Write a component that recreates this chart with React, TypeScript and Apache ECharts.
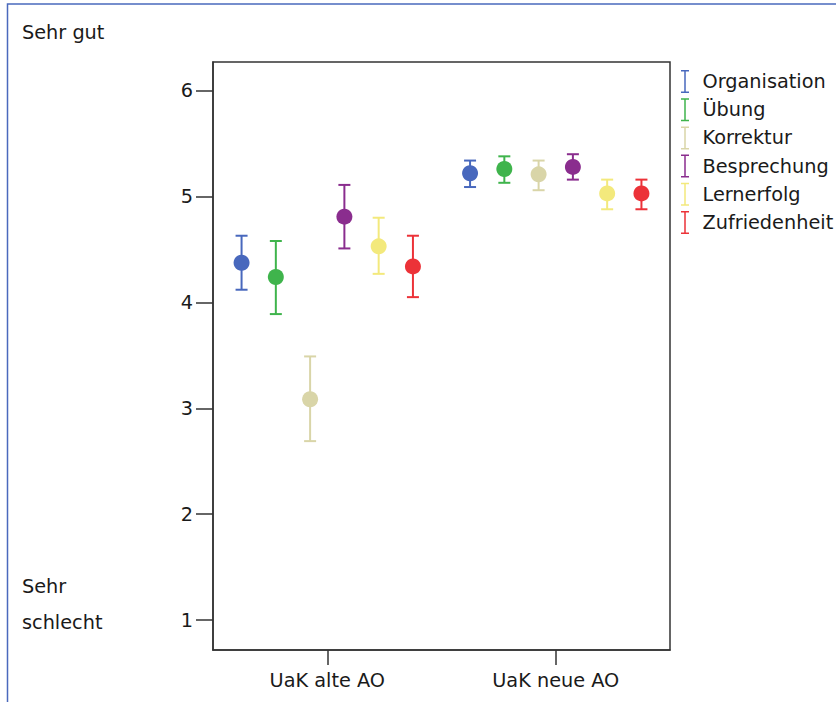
import React, { useEffect, useRef } from "react";
import * as echarts from "echarts";

const categories = ["UaK alte AO", "UaK neue AO"];
const seriesNames = ["Organisation", "Übung", "Korrektur", "Besprechung", "Lernerfolg", "Zufriedenheit"];
const seriesColors = ["#4868bd", "#3fb44c", "#d9d5a8", "#8a2d8e", "#f3e97c", "#ec3238"];
// mean values per series: [UaK alte AO, UaK neue AO]
const meanValues = [
  [4.375, 5.22],
  [4.24, 5.26],
  [3.085, 5.21],
  [4.81, 5.28],
  [4.53, 5.03],
  [4.34, 5.03],
];
const lowerValues = [
  [4.12, 5.09],
  [3.89, 5.13],
  [2.69, 5.06],
  [4.51, 5.16],
  [4.27, 4.88],
  [4.05, 4.88],
];
const upperValues = [
  [4.63, 5.34],
  [4.58, 5.38],
  [3.49, 5.34],
  [5.11, 5.4],
  [4.8, 5.16],
  [4.63, 5.16],
];
const yTickValues = [1, 2, 3, 4, 5, 6];
const topLabel = "Sehr gut";
const bottomLabelLines = ["Sehr", "schlecht"];

const FONT = "DejaVu Sans";
const FS = 19.3;
const IBEAM = "path://M0,0H8V1.5H4.75V21.5H8V23H0V21.5H3.25V1.5H0Z";

export default function App() {
  const ref = useRef<HTMLDivElement>(null);
  useEffect(() => {
    if (!ref.current) return;
    const chart = echarts.init(ref.current, null, { renderer: "svg" });
    const series = seriesNames.map((name, si) => ({
      name,
      type: "custom",
      itemStyle: { color: seriesColors[si] },
      encode: { x: 0, y: 1 },
      data: categories.map((_, ci) => [ci, meanValues[si][ci], lowerValues[si][ci], upperValues[si][ci]]),
      renderItem: (params: any, api: any) => {
        const cat = api.value(0);
        const m = api.value(1);
        const lo = api.value(2);
        const hi = api.value(3);
        const band = api.size([1, 0])[0];
        const dx = (params.seriesIndex - 2.5) * band * 0.15;
        const pm = api.coord([cat, m]);
        const pl = api.coord([cat, lo]);
        const ph = api.coord([cat, hi]);
        const x = pm[0] + dx;
        const color = api.visual("color");
        const ls = { stroke: color, lineWidth: 2 };
        return {
          type: "group",
          children: [
            { type: "line", shape: { x1: x, y1: ph[1], x2: x, y2: pl[1] }, style: ls },
            { type: "line", shape: { x1: x - 6, y1: ph[1], x2: x + 6, y2: ph[1] }, style: ls },
            { type: "line", shape: { x1: x - 6, y1: pl[1], x2: x + 6, y2: pl[1] }, style: ls },
            { type: "circle", shape: { cx: x, cy: pm[1], r: 8 }, style: { fill: color } },
          ],
        };
      },
    }));
    chart.setOption({
      animation: false,
      backgroundColor: "#ffffff",
      textStyle: { fontFamily: FONT },
      grid: {
        left: 213,
        right: 166,
        top: 62,
        bottom: 52,
        show: true,
        borderColor: "#333333",
        borderWidth: 1.5,
        backgroundColor: "transparent",
      },
      xAxis: {
        type: "category",
        data: categories,
        axisLine: { lineStyle: { color: "#333333", width: 1.5 } },
        axisTick: { show: true, interval: 0, alignWithLabel: true, length: 15, lineStyle: { color: "#333333", width: 1.5 } },
        axisLabel: { color: "#1a1a1a", fontSize: FS, fontFamily: FONT, margin: 21, interval: 0 },
        splitLine: { show: false },
      },
      yAxis: {
        type: "value",
        min: 0.717,
        max: 6.271,
        axisLine: { show: true, lineStyle: { color: "#333333", width: 1.5 } },
        axisTick: { show: true, length: 17, customValues: yTickValues, lineStyle: { color: "#333333", width: 1.5 } },
        axisLabel: { color: "#1a1a1a", fontSize: FS, fontFamily: FONT, margin: 20, customValues: yTickValues },
        splitLine: { show: false },
      },
      legend: {
        orient: "vertical",
        left: 681,
        top: 70,
        padding: 0,
        itemWidth: 9,
        itemHeight: 23,
        itemGap: 5.2,
        data: seriesNames.map((name) => ({ name, icon: IBEAM })),
        textStyle: { color: "#1a1a1a", fontSize: FS, fontFamily: FONT, padding: [0, 0, 0, 8] },
        selectedMode: false,
      },
      graphic: [
        {
          type: "rect",
          shape: { x: 7.5, y: 4, width: 1000, height: 1000 },
          style: { fill: "none", stroke: "#4a69bd", lineWidth: 1.5 },
          silent: true,
        },
        {
          type: "text",
          x: 22,
          y: 32,
          style: { text: topLabel, font: `${FS}px '${FONT}'`, fill: "#1a1a1a", verticalAlign: "middle" },
        },
        {
          type: "text",
          x: 22,
          y: 586,
          style: { text: bottomLabelLines[0], font: `${FS}px '${FONT}'`, fill: "#1a1a1a", verticalAlign: "middle" },
        },
        {
          type: "text",
          x: 22,
          y: 622,
          style: { text: bottomLabelLines[1], font: `${FS}px '${FONT}'`, fill: "#1a1a1a", verticalAlign: "middle" },
        },
      ],
      series,
    });
    return () => chart.dispose();
  }, []);
  return (
    <div
      ref={ref}
      style={{ position: "fixed", left: 0, top: 0, width: 836, height: 702, background: "#ffffff" }}
    />
  );
}
